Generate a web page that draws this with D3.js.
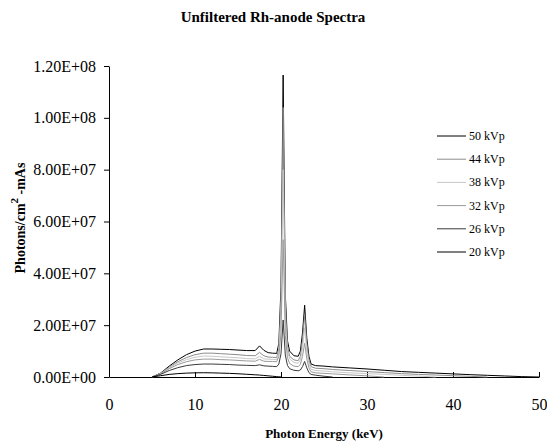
<!DOCTYPE html>
<meta charset="utf-8">
<script src="https://d3js.org/d3.v7.min.js"></script>
<style>
  body { margin: 0; background: #fff; }
</style>
<div id="chart"></div>
<script>

var serif = "'Liberation Serif', 'Times New Roman', 'DejaVu Serif', serif";

// photon energy (keV)
var energy = [5, 6, 7, 8, 9, 10, 11, 12, 13, 14, 15, 16, 17, 17.5, 18, 18.5, 19, 19.5, 19.75, 20,
  20.25, 20.5, 20.75, 21, 21.5, 22, 22.25, 22.5, 22.75, 23, 23.25, 23.5, 24, 25, 26, 28, 30,
  32, 34, 36, 38, 40, 42, 44, 46, 48, 50];

// photons/cm^2-mAs, one array per tube voltage (runs up to its kVp)
var kvp50 = [0, 1.5e6, 4.2e6, 6.6e6, 8.6e6, 1.0e7, 1.08e7, 1.08e7, 1.07e7, 1.06e7, 1.04e7, 1.02e7, 1.02e7, 1.2e7, 1.03e7, 9.4e6,
  9.2e6, 9.1e6, 1.3e7, 3.5e7, 1.165e8, 3.2e7, 1.4e7, 1.0e7, 8.2e6, 8.0e6, 1.0e7, 1.7e7, 2.77e7, 1.5e7, 8.0e6, 5.0e6,
  4.4e6, 4.2e6, 3.9e6, 3.5e6, 3.1e6, 2.6e6, 2.1e6, 1.8e6, 1.5e6, 1.2e6, 9.0e5, 6.5e5, 4.0e5, 1.5e5, 0];
var kvp44 = [0, 1.4e6, 3.8e6, 5.9e6, 7.5e6, 8.6e6, 9.2e6, 9.2e6, 9.0e6, 8.8e6, 8.6e6, 8.3e6, 8.2e6, 9.5e6, 8.2e6, 7.7e6,
  7.6e6, 7.5e6, 1.1e7, 3.0e7, 1.04e8, 2.8e7, 1.2e7, 8.0e6, 6.6e6, 6.3e6, 8.0e6, 1.4e7, 2.4e7, 1.3e7, 6.5e6, 4.0e6,
  3.4e6, 3.2e6, 2.9e6, 2.5e6, 2.1e6, 1.7e6, 1.3e6, 1.0e6, 7.5e5, 5.0e5, 2.5e5, 0];
var kvp38 = [0, 1.3e6, 3.5e6, 5.4e6, 6.7e6, 7.6e6, 8.1e6, 8.0e6, 7.8e6, 7.6e6, 7.4e6, 7.1e6, 7.0e6, 8.0e6, 7.0e6, 6.9e6,
  6.8e6, 6.7e6, 9.5e6, 2.4e7, 8.0e7, 2.2e7, 1.0e7, 7.0e6, 5.6e6, 5.3e6, 6.5e6, 1.1e7, 1.9e7, 1.0e7, 5.0e6, 3.0e6,
  2.5e6, 2.3e6, 2.0e6, 1.6e6, 1.3e6, 1.0e6, 6.5e5, 3.5e5, 0];
var kvp32 = [0, 1.2e6, 3.2e6, 4.8e6, 5.9e6, 6.6e6, 6.9e6, 6.9e6, 6.7e6, 6.6e6, 6.4e6, 6.2e6, 6.1e6, 6.8e6, 6.1e6, 6.0e6,
  6.0e6, 5.9e6, 8.0e6, 1.7e7, 5.3e7, 1.6e7, 7.5e6, 5.2e6, 4.2e6, 4.0e6, 4.8e6, 8.0e6, 1.3e7, 7.0e6, 3.5e6, 2.0e6,
  1.6e6, 1.4e6, 1.2e6, 8.0e5, 4.5e5, 0];
var kvp26 = [0, 1.0e6, 2.5e6, 3.6e6, 4.4e6, 4.8e6, 5.0e6, 5.0e6, 4.9e6, 4.8e6, 4.6e6, 4.5e6, 4.4e6, 4.7e6, 4.3e6, 4.2e6,
  4.1e6, 4.0e6, 5.0e6, 9.0e6, 2.2e7, 8.5e6, 4.5e6, 3.2e6, 2.6e6, 2.4e6, 2.7e6, 4.0e6, 6.0e6, 3.5e6, 1.7e6, 1.0e6,
  7.0e5, 3.0e5, 0];
var kvp20 = [0, 5.0e5, 1.0e6, 1.3e6, 1.5e6, 1.6e6, 1.65e6, 1.6e6, 1.5e6, 1.4e6, 1.25e6, 1.05e6, 8.5e5, 7.5e5, 6.0e5, 4.5e5,
  3.0e5, 1.5e5, 8.0e4, 0];

var seriesNames = ["50 kVp", "44 kVp", "38 kVp", "32 kVp", "26 kVp", "20 kVp"];
var seriesValues = [kvp50, kvp44, kvp38, kvp32, kvp26, kvp20];
var seriesColors = ["#000000", "#8c8c8c", "#c8c8c8", "#9a9a9a", "#3a3a3a", "#000000"];

var xTicks = [0, 10, 20, 30, 40, 50];
var yTicks = [0, 2e7, 4e7, 6e7, 8e7, 1e8, 1.2e8];

var margin = {top: 66, right: 8, bottom: 68, left: 109},
    width = 539 - margin.left,
    height = 377 - margin.top;

var svg = d3.select("#chart")
  .append("svg")
    .attr("width", 547)
    .attr("height", 445)
    .style("font-family", serif)
  .append("g")
    .attr("transform", "translate(" + margin.left + "," + margin.top + ")");

var x = d3.scaleLinear().domain([0, 50]).range([0, width]);
var y = d3.scaleLinear().domain([0, 1.2e8]).range([height, 0]);

// excel style 1.20E+08
function sci(v) {
  if (v === 0) return "0.00E+00";
  var e = Math.floor(Math.log10(v));
  var m = v / Math.pow(10, e);
  return m.toFixed(2) + "E+" + (e < 10 ? "0" + e : e);
}

// y axis
var yAxis = svg.append("g")
  .call(d3.axisLeft(y).tickValues(yTicks).tickFormat(sci).tickSize(5).tickPadding(8).tickSizeOuter(0));
yAxis.attr("font-family", null);
yAxis.select(".domain").attr("stroke", "#000");
yAxis.selectAll("text").style("font-family", serif).style("font-size", "16px").attr("fill", "#000");

// x axis, ticks point into the plot
var xAxis = svg.append("g")
  .attr("transform", "translate(0," + height + ")")
  .call(d3.axisBottom(x).tickValues(xTicks).tickSize(-5).tickPadding(22).tickSizeOuter(0));
xAxis.attr("font-family", null);
xAxis.select(".domain").attr("stroke", "#000");
xAxis.selectAll("text").style("font-family", serif).style("font-size", "16px").attr("fill", "#000");

// spectra
var line = d3.line()
  .x(function(d) { return x(d[0]); })
  .y(function(d) { return y(d[1]); });

seriesValues.forEach(function(vals, i) {
  var pts = vals.map(function(v, j) { return [energy[j], v]; });
  svg.append("path")
    .datum(pts)
    .attr("fill", "none")
    .attr("stroke", seriesColors[i])
    .attr("stroke-width", 1)
    .attr("d", line);
});

// legend
var legend = svg.append("g").attr("transform", "translate(328,70)");
seriesNames.forEach(function(name, i) {
  var g = legend.append("g").attr("transform", "translate(0," + (i * 23.2) + ")");
  g.append("line")
    .attr("x1", 0).attr("x2", 29)
    .attr("y1", 0).attr("y2", 0)
    .attr("stroke", seriesColors[i]);
  g.append("text")
    .attr("x", 32).attr("y", 4)
    .style("font-family", serif)
    .style("font-size", "12px")
    .text(name);
});

// title
svg.append("text")
  .attr("x", 273 - margin.left)
  .attr("y", 22 - margin.top)
  .attr("text-anchor", "middle")
  .style("font-family", serif)
  .style("font-size", "15px")
  .style("font-weight", "bold")
  .text("Unfiltered Rh-anode Spectra");

// x label
svg.append("text")
  .attr("x", 324 - margin.left)
  .attr("y", 438 - margin.top)
  .attr("text-anchor", "middle")
  .style("font-family", serif)
  .style("font-size", "13px")
  .style("font-weight", "bold")
  .text("Photon Energy (keV)");

// y label
var yl = svg.append("text")
  .attr("transform", "translate(" + (25 - margin.left) + "," + (218 - margin.top) + ") rotate(-90)")
  .attr("text-anchor", "middle")
  .style("font-family", serif)
  .style("font-size", "14px")
  .style("font-weight", "bold");
yl.append("tspan").text("Photons/cm");
yl.append("tspan").attr("dy", -7).style("font-size", "11px").text("2");
yl.append("tspan").attr("dy", 7).text(" -mAs");

</script>
